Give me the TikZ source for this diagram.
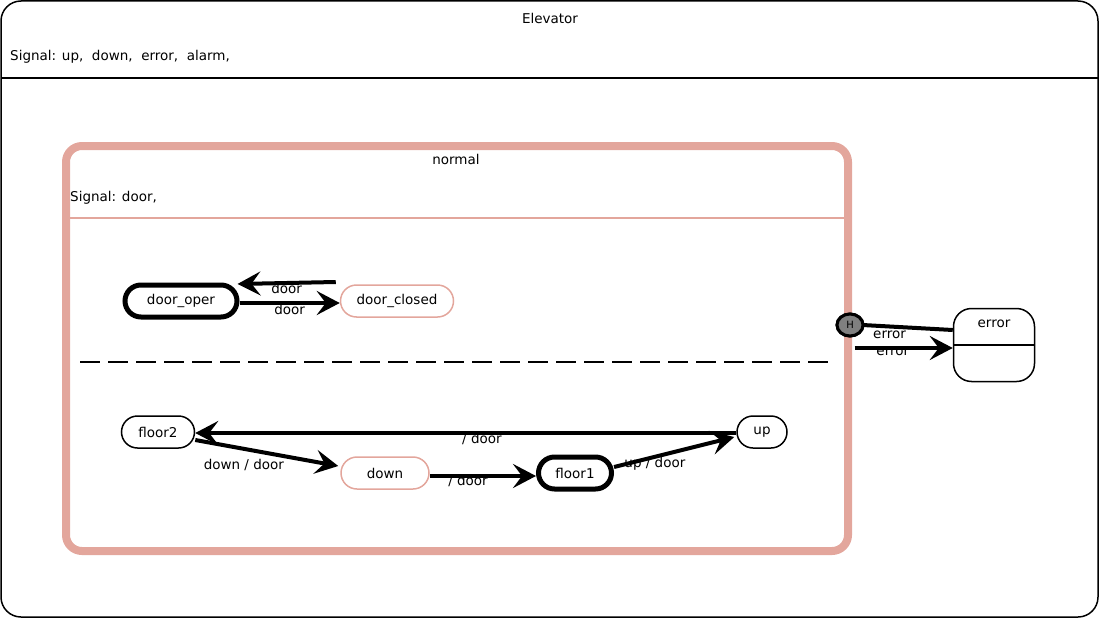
\documentclass[tikz,border=0pt]{standalone}
\usepackage{fontspec}
\setmainfont{DejaVu Sans}
\usetikzlibrary{arrows.meta}
\usetikzlibrary{positioning}
\usetikzlibrary{shapes.geometric}
\definecolor{normalpink}{HTML}{E3A69C}
\tikzset{>={Stealth[length=23,width=24,inset=9]}}
\tikzset{
  state/.style={draw, rounded corners=16, minimum height=32, font=\fontsize{13.5}{15}\selectfont},
  initstate/.style={state, line width=5},
  plainstate/.style={state, line width=1.5},
  pinkstate/.style={state, draw=normalpink, line width=1.5},
  trans/.style={->, line width=4},
  translabel/.style={font=\fontsize{13.5}{15}\selectfont, inner sep=0},
  histstate/.style={draw, ellipse, line width=3, fill=gray, minimum width=26, minimum height=22, inner sep=0, font=\fontsize{10}{11}\selectfont}
}

\begin{document}
\begin{tikzpicture}[x=1pt, y=-1pt, font=\fontsize{13.5}{15}\selectfont]
        \useasboundingbox (0,0) rectangle (1099,618);

        % Elevator
        \draw [line width=1.5, rounded corners=20] (1,1) rectangle (1098,617);
        \draw [line width=1.5] (1,78)--(1098,78);
        \node (ElevatorTitle) at (550,18) {Elevator};
        \node [anchor=west, inner sep=0] (ElevatorSignal) at (10,57) {Signal: up,\ \ down,\ \ error,\ \ alarm,};

        % normal
        \draw [normalpink, line width=8, rounded corners=16] (66,146) rectangle (848,551);
        \draw [normalpink, line width=2] (66,218)--(848,218);
        \node (NormalTitle) at (456,159) {normal};
        \node [anchor=west, inner sep=0] (NormalSignal) at (70,198) {Signal: door,};
        \draw [line width=1.5, dash pattern=on 20 off 8] (80,362)--(830,362);

        \node [initstate, minimum width=112] (DoorOper) at (181,301) {door\_oper};
        \node [pinkstate, minimum width=113] (DoorClosed) at (397,301) {door\_closed};
        \draw [trans] ([yshift=-2]DoorOper.east)--([yshift=-2]DoorClosed.west) node [translabel, midway, yshift=-6] (DoorLabelA) {door};
        \draw [trans] ([xshift=-4,yshift=19]DoorClosed.west)--([xshift=-2,yshift=17]DoorOper.east) node [translabel, midway, yshift=-5] (DoorLabelB) {door};

        \node [plainstate, minimum width=73] (FloorTwo) at (158,432) {floor2};
        \node [plainstate, minimum width=50] (Up) at (762,432) {up};
        \node [pinkstate, minimum width=88] (Down) at (385,473) {down};
        \node [initstate, minimum width=73] (FloorOne) at (575,473) {floor1};
        \draw [trans] ([yshift=-1]Up.west)--([yshift=-1]FloorTwo.east) node [translabel, pos=0.47, yshift=-6] (UpLabel) {/ door};
        \draw [trans] ([yshift=-8]FloorTwo.east)--([xshift=-2,yshift=7]Down.west) node [translabel, pos=0.34, yshift=-16] (DownLabel) {down / door};
        \draw [trans] ([yshift=-3]Down.east)--([yshift=-3]FloorOne.west) node [translabel, pos=0.36, yshift=-5] (FloorOneLabel) {/ door};
        \draw [trans] ([yshift=6]FloorOne.east)--([xshift=-2,yshift=-5]Up.west) node [translabel, pos=0.34, yshift=-7] (FloorUpLabel) {up / door};

        % error
        \node [draw, line width=1.5, rounded corners=18, minimum width=81, minimum height=73] (Error) at (994,345) {};
        \node [anchor=north, yshift=-9] (ErrorTitle) at (Error.north) {error};
        \draw [line width=1.5] (Error.west |- 0,345)--(Error.east |- 0,345);

        \node [histstate] (History) at (850,325) {H};
        \draw [line width=4] ([xshift=-2]History.east)--([yshift=15]Error.west) node [translabel, pos=0.3, yshift=-8] (HistLabel) {error};
        \draw [trans] ([xshift=-10,yshift=-23]History.east)--([yshift=-3]Error.west) node [translabel, pos=0.39, yshift=-4] (ErrLabel) {error};
        \node [histstate] at (History) {H};
\end{tikzpicture}
\end{document}
